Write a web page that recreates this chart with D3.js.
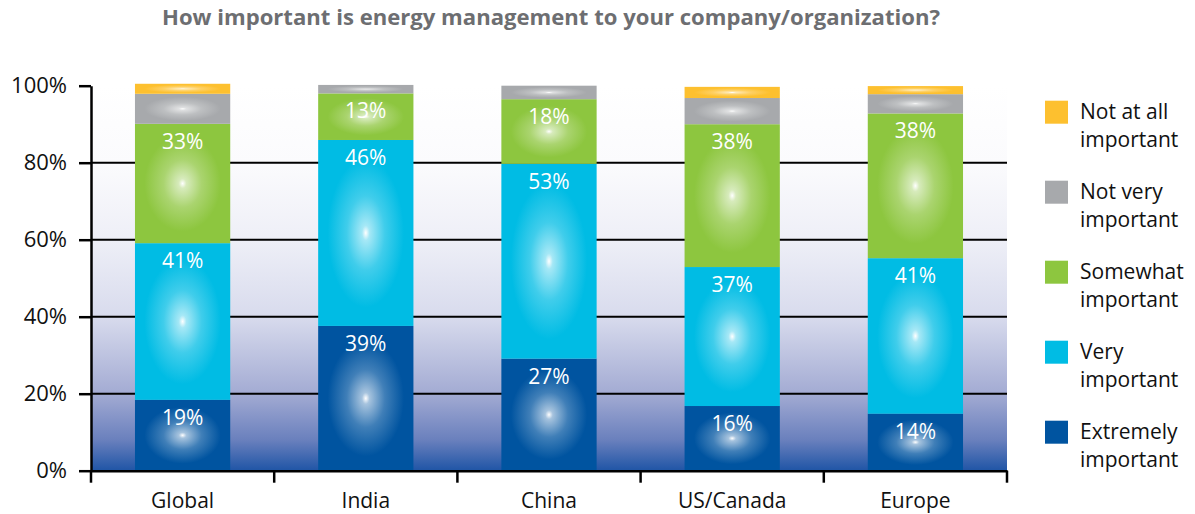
<!doctype html>
<html lang="en">
<head>
  <meta charset="utf-8">
  <title>Energy management importance</title>
  <script src="https://d3js.org/d3.v7.min.js"></script>
  <style>
  body { margin: 0; background: #fff; }
  text { font-family: "Open Sans", sans-serif; }
  .axis path, .axis line { stroke: #000; }
  </style>
</head>
<body>
<script>
  // data (segment heights in %, printed labels separately)
  var categories = ["Global", "India", "China", "US/Canada", "Europe"]
  var seriesNames = ["Extremely important", "Very important", "Somewhat important", "Not very important", "Not at all important"]
  var extremely = [18.4, 37.6, 29.1, 16.8, 14.8]
  var very      = [40.7, 48.3, 50.6, 36.1, 40.4]
  var somewhat  = [31.0, 12.1, 16.8, 37.1, 37.6]
  var notVery   = [7.8, 2.2, 3.5, 6.8, 5.0]
  var notAtAll  = [2.6, 0, 0, 2.9, 2.1]
  var extremelyLabels = ["19%", "39%", "27%", "16%", "14%"]
  var veryLabels      = ["41%", "46%", "53%", "37%", "41%"]
  var somewhatLabels  = ["33%", "13%", "18%", "38%", "38%"]
  var yTicks = [0, 20, 40, 60, 80, 100]

  var colors = ["#0054a0", "#00bce4", "#8dc63f", "#a7a9ac", "#fdc02f"]
  var seriesValues = [extremely, very, somewhat, notVery, notAtAll]
  var seriesLabels = [extremelyLabels, veryLabels, somewhatLabels, null, null]

  var width = 1195, height = 514
  var svg = d3.select("body").append("svg")
      .attr("width", width)
      .attr("height", height)

  var x = d3.scaleBand().domain(categories).range([91, 1007])
            .paddingInner(0.48).paddingOuter(0.24)
  var y = d3.scaleLinear().domain([0, 100]).range([470.7, 85.7])

  var defs = svg.append("defs")
  // plot background fading from white to blue
  var bg = defs.append("linearGradient").attr("id", "bg")
      .attr("x1", 0).attr("y1", 0).attr("x2", 0).attr("y2", 1)
  var bgStops = [[0, "#ffffff"], [0.2, "#fbfbfd"], [0.4, "#eeeff7"], [0.6, "#d8dbed"],
                 [0.8, "#a3abd3"], [0.92, "#6a80bd"], [1, "#1f55a6"]]
  bgStops.forEach(function(s) {
    bg.append("stop").attr("offset", s[0]).attr("stop-color", s[1])
  })

  // one glow gradient per series
  colors.forEach(function(c, i) {
    var g = defs.append("radialGradient").attr("id", "glow" + i)
        .attr("cx", 0.5).attr("cy", 0.5).attr("r", 0.5)
    var mix = d3.interpolateRgb(c, "#ffffff")
    g.append("stop").attr("offset", 0).attr("stop-color", "#ffffff")
    g.append("stop").attr("offset", 0.08).attr("stop-color", mix(0.65))
    g.append("stop").attr("offset", 0.4).attr("stop-color", mix(0.25))
    g.append("stop").attr("offset", 0.8).attr("stop-color", c)
    g.append("stop").attr("offset", 1).attr("stop-color", c)
  })

  svg.append("rect")
      .attr("x", x.range()[0]).attr("y", y(100))
      .attr("width", x.range()[1] - x.range()[0])
      .attr("height", y(0) - y(100))
      .attr("fill", "url(#bg)")

  // gridlines
  svg.append("g").selectAll("line")
      .data([20, 40, 60, 80])
      .enter().append("line")
      .attr("x1", x.range()[0]).attr("x2", x.range()[1])
      .attr("y1", function(d) { return y(d) }).attr("y2", function(d) { return y(d) })
      .attr("stroke", "#000").attr("stroke-width", 2)

  // stacked bars
  categories.forEach(function(cat, ci) {
    var base = 0
    seriesValues.forEach(function(vals, si) {
      var v = vals[ci]
      if (v <= 0) return
      var top = base + v
      svg.append("rect")
          .attr("x", x(cat)).attr("width", x.bandwidth())
          .attr("y", y(top)).attr("height", y(base) - y(top))
          .attr("fill", "url(#glow" + si + ")")
      if (seriesLabels[si]) {
        svg.append("text")
            .attr("x", x(cat) + x.bandwidth() / 2)
            .attr("y", y(top) + 25)
            .attr("text-anchor", "middle")
            .attr("fill", "#fff")
            .style("font-size", "21px")
            .text(seriesLabels[si][ci])
      }
      base = top
    })
  })

  // y axis
  var yAxis = svg.append("g").attr("class", "axis")
      .attr("transform", "translate(" + x.range()[0] + ",0)")
      .call(d3.axisLeft(y).tickValues(yTicks).tickFormat(function(d) { return d + "%" })
            .tickSize(12).tickSizeOuter(0).tickPadding(12))
  yAxis.selectAll("path, line").attr("stroke-width", 2.5)
  yAxis.selectAll("text").style("font-size", "22px").attr("fill", "#111")

  // x axis: labels centred in bands, ticks on band boundaries
  var xAxis = svg.append("g").attr("class", "axis")
      .attr("transform", "translate(0," + y(0) + ")")
      .call(d3.axisBottom(x).tickSize(0).tickSizeOuter(0).tickPadding(22))
  xAxis.select("path").attr("stroke-width", 2.5)
  xAxis.selectAll("text").style("font-size", "21px").attr("fill", "#111")
  var bounds = categories.map(function(c) { return x(c) - x.step() * x.paddingInner() / 2 })
  bounds.push(x.range()[1])
  xAxis.selectAll(".bound").data(bounds).enter().append("line")
      .attr("class", "bound")
      .attr("x1", function(d) { return d }).attr("x2", function(d) { return d })
      .attr("y1", 0).attr("y2", 12)
      .attr("stroke", "#000").attr("stroke-width", 2.5)

  // title
  svg.append("text")
      .attr("x", 551).attr("y", 25)
      .attr("text-anchor", "middle")
      .attr("fill", "#6d6e71")
      .attr("textLength", 778).attr("lengthAdjust", "spacingAndGlyphs")
      .style("font-size", "21px").style("font-weight", "bold")
      .text("How important is energy management to your company/organization?")

  // legend, top to bottom, two separate lines per entry
  var legendItems = [
    ["Not at all", "important", 4],
    ["Not very", "important", 3],
    ["Somewhat", "important", 2],
    ["Very", "important", 1],
    ["Extremely", "important", 0]
  ]
  var legend = svg.append("g")
  legendItems.forEach(function(d, i) {
    var top = 100.7 + i * 80
    legend.append("rect").attr("x", 1045).attr("y", top)
        .attr("width", 23).attr("height", 23).attr("fill", colors[d[2]])
    legend.append("text").attr("x", 1080).attr("y", top + 18)
        .attr("fill", "#111").style("font-size", "21px").text(d[0])
    legend.append("text").attr("x", 1080).attr("y", top + 46)
        .attr("fill", "#111").style("font-size", "21px").text(d[1])
  })
</script>
</body>
</html>
